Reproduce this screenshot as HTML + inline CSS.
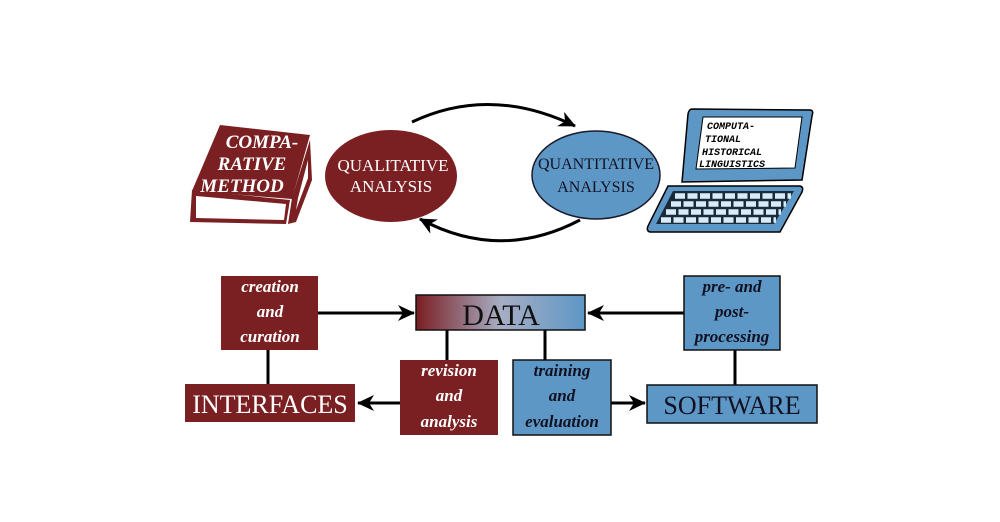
<!DOCTYPE html>
<html><head><meta charset="utf-8"><style>
html,body{margin:0;padding:0;background:#fff;}
svg{display:block;}
</style></head><body>
<svg width="1000" height="522" viewBox="0 0 1000 522" xmlns="http://www.w3.org/2000/svg">
<defs>
<linearGradient id="g" x1="0" x2="1" y1="0" y2="0">
<stop offset="0" stop-color="#7a1e22"/><stop offset="0.5" stop-color="#a7aec4"/><stop offset="1" stop-color="#5d97c5"/>
</linearGradient>
<marker id="b" markerWidth="18" markerHeight="18" refX="16" refY="9" orient="auto" markerUnits="userSpaceOnUse">
<path d="M0,1 L17,9 L0,17 L5,9 Z" fill="#000"/></marker>
</defs>
<g font-family="Liberation Serif, serif">
<!-- book -->
<path d="M192,190 L190,222 L286,224 L290,200 Z" fill="#7b2022"/>
<path d="M196,196 L196,218 L284,220 L286,204 Z" fill="#fff"/>
<path d="M292,198 L310,140 L312,180 L296,222 L288,224 Z" fill="#7b2022"/>
<path d="M298,198 L308,160 L308,178 L296,210 Z" fill="#fff"/>
<path d="M220,125 L310,135 L292,199 L192,191 Z" fill="#7b2022"/>
<text font-style="italic" font-weight="bold" fill="#fff" font-size="19" text-anchor="middle">
<tspan x="262" y="148">COMPA-</tspan><tspan x="252" y="170">RATIVE</tspan><tspan x="242" y="192">METHOD</tspan></text>
<!-- ellipses -->
<ellipse cx="391" cy="176" rx="66" ry="46" fill="#7b2022"/>
<text fill="#fff" font-size="17" text-anchor="middle"><tspan x="393" y="171">QUALITATIVE</tspan><tspan x="391" y="192">ANALYSIS</tspan></text>
<ellipse cx="596" cy="175" rx="64" ry="44" fill="#5d97c5" stroke="#1a1a2a" stroke-width="1.5"/>
<text fill="#112" font-size="16" text-anchor="middle"><tspan x="596" y="169">QUANTITATIVE</tspan><tspan x="596" y="192">ANALYSIS</tspan></text>
<path d="M412,122 Q490,85 575,126" fill="none" stroke="#000" stroke-width="3" marker-end="url(#b)"/>
<path d="M580,220 Q500,262 420,219" fill="none" stroke="#000" stroke-width="3" marker-end="url(#b)"/>
<!-- laptop -->
<path d="M692,109 L810,110 Q814,110 812,116 L802,180 L682,182 L688,114 Q689,109 692,109 Z" fill="#5d97c5" stroke="#000" stroke-width="1.5"/>
<path d="M703,117 L802,117 L795,168 L696,169 Z" fill="#fff" stroke="#000" stroke-width="1"/>
<text font-family="Liberation Mono, monospace" font-weight="bold" font-style="italic" font-size="10" fill="#000">
<tspan x="707" y="129">COMPUTA-</tspan><tspan x="705" y="142">TIONAL</tspan><tspan x="702" y="155">HISTORICAL</tspan><tspan x="699" y="167">LINGUISTICS</tspan></text>
<path d="M668,186 L800,186 Q804,187 802,192 L780,232 L650,232 Q646,231 648,226 Z" fill="#5d97c5" stroke="#000" stroke-width="1.5"/>
<path d="M673,191 L794,191 L774,224 L656,224 Z" fill="#1b2a3a"/>
<g stroke="#d8ecf8" stroke-width="5.5" stroke-dasharray="10 2.5">
<line x1="675" y1="196" x2="791" y2="196"/>
<line x1="671" y1="204" x2="786" y2="204"/>
<line x1="666" y1="212" x2="781" y2="212"/>
<line x1="661" y1="220" x2="776" y2="220"/>
</g>
<!-- bottom -->
<g stroke="#000" stroke-width="3" fill="none">
<line x1="268" y1="350" x2="268" y2="384"/>
<line x1="447" y1="330" x2="447" y2="360"/>
<line x1="545" y1="330" x2="545" y2="360"/>
<line x1="735" y1="350" x2="735" y2="385"/>
<line x1="318" y1="313" x2="414" y2="313" marker-end="url(#b)"/>
<line x1="684" y1="313" x2="588" y2="313" marker-end="url(#b)"/>
<line x1="400" y1="403" x2="358" y2="403" marker-end="url(#b)"/>
<line x1="611" y1="403" x2="645" y2="403" marker-end="url(#b)"/>
</g>
<rect x="221" y="276" width="97" height="74" fill="#7b2022"/>
<text fill="#fff" font-style="italic" font-weight="bold" font-size="17" text-anchor="middle"><tspan x="270" y="292">creation</tspan><tspan x="270" y="317">and</tspan><tspan x="270" y="342">curation</tspan></text>
<rect x="416" y="295" width="169" height="35" fill="url(#g)" stroke="#111" stroke-width="1.5"/>
<text x="501" y="325" font-size="30" text-anchor="middle" fill="#111">DATA</text>
<rect x="684" y="276" width="96" height="74" fill="#5d97c5" stroke="#111" stroke-width="1.5"/>
<text fill="#112" font-style="italic" font-weight="bold" font-size="17" text-anchor="middle"><tspan x="732" y="292">pre- and</tspan><tspan x="732" y="317">post-</tspan><tspan x="732" y="342">processing</tspan></text>
<rect x="185" y="384" width="170" height="38" fill="#7b2022"/>
<text x="270" y="413" font-size="26" text-anchor="middle" fill="#fff">INTERFACES</text>
<rect x="400" y="360" width="98" height="75" fill="#7b2022"/>
<text fill="#fff" font-style="italic" font-weight="bold" font-size="17" text-anchor="middle"><tspan x="449" y="376">revision</tspan><tspan x="449" y="401">and</tspan><tspan x="449" y="427">analysis</tspan></text>
<rect x="513" y="360" width="98" height="75" fill="#5d97c5" stroke="#111" stroke-width="1.5"/>
<text fill="#112" font-style="italic" font-weight="bold" font-size="17" text-anchor="middle"><tspan x="562" y="376">training</tspan><tspan x="562" y="401">and</tspan><tspan x="562" y="427">evaluation</tspan></text>
<rect x="647" y="385" width="170" height="38" fill="#5d97c5" stroke="#111" stroke-width="1.5"/>
<text x="732" y="414" font-size="26" text-anchor="middle" fill="#112">SOFTWARE</text>
</g>
</svg>
</body></html>
